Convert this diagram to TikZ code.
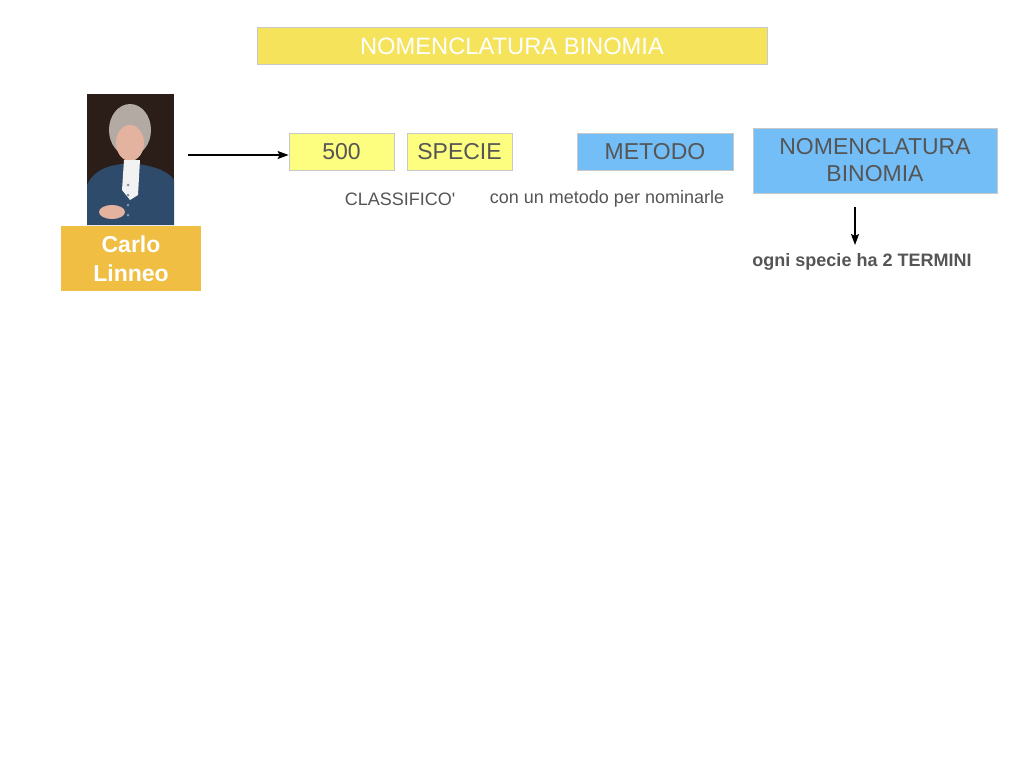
\documentclass[tikz,border=0pt]{standalone}
\usepackage{fontspec}
\setmainfont{Liberation Sans}
\usetikzlibrary{arrows.meta}
\definecolor{titleyellow}{HTML}{F5E35C}
\definecolor{boxyellow}{HTML}{FDFD80}
\definecolor{boxblue}{HTML}{74BEF7}
\definecolor{namegold}{HTML}{EFBE42}
\definecolor{textgray}{HTML}{555555}
\definecolor{edgegray}{HTML}{C8C8C8}
\definecolor{bgdark}{HTML}{2B1D17}
\definecolor{coat}{HTML}{2F4B6B}
\definecolor{skin}{HTML}{E3B3A0}
\definecolor{wig}{HTML}{B3ABA3}
\tikzset{
  box/.style={draw=edgegray,line width=.8pt,inner sep=0pt,text=textgray,font=\fontsize{23}{27}\selectfont,align=center},
  note/.style={text=textgray,font=\fontsize{18}{22}\selectfont,inner sep=0pt},
  link/.style={-{Stealth[length=11pt,width=8pt,inset=2pt]},line width=1.3pt}
}
\begin{document}
\begin{tikzpicture}[x=1pt,y=-1pt]
\useasboundingbox (0,0) rectangle (1024,768);
\fill[white] (0,0) rectangle (1024,768);
\node[box,fill=titleyellow,text=white,font=\fontsize{23.7}{27}\selectfont,minimum width=510pt,minimum height=37pt] (title) at (512,46) {NOMENCLATURA BINOMIA};
\fill[bgdark] (87,94) rectangle (174,225);
\fill[wig] (130,130) ellipse (21 and 26);
\fill[coat] (87,225) -- (87,185) .. controls (95,168) and (110,165) .. (130,163) .. controls (150,165) and (168,170) .. (174,180) -- (174,225) -- cycle;
\fill[skin] (130,143) ellipse (14 and 18);
\fill[white!90!gray] (124,160) -- (140,160) -- (138,195) -- (130,200) -- (122,190) -- cycle;
\fill[skin] (112,212) ellipse (13 and 7);
\foreach \y in {185,195,205,215}
  \fill[coat!60!white] (128,\y) circle (1.5);
\node[fill=namegold,text=white,font=\bfseries\fontsize{23}{29}\selectfont,align=center,minimum width=140pt,minimum height=65pt,inner sep=0pt] (linneo) at (131,258.5) {Carlo\\Linneo};
\coordinate (portrait) at (188,155);
\node[box,fill=boxyellow,minimum width=105pt,minimum height=37pt] (cinq) at (341.5,151.5) {500};
\node[box,fill=boxyellow,minimum width=105pt,minimum height=37pt] (specie) at (459.5,151.5) {SPECIE};
\node[box,fill=boxblue,minimum width=156pt,minimum height=37pt] (metodo) at (655,151.5) {METODO};
\node[box,fill=boxblue,minimum width=244pt,minimum height=65pt] (binomia) at (875,160.5) {NOMENCLATURA\\BINOMIA};
\node[note] (classifico) at (400,199) {CLASSIFICO\textquotesingle};
\node[note] (nominarle) at (607,199) {con un metodo per nominarle};
\node[note,font=\bfseries\fontsize{18}{22}\selectfont] (termini) at (862,262) {ogni specie ha 2 TERMINI};
\coordinate (arrowtop) at (855,207);
\draw[link] (portrait) -- (portrait -| cinq.west);
\draw[link] (arrowtop) -- ++(0,38);
\end{tikzpicture}
\end{document}
